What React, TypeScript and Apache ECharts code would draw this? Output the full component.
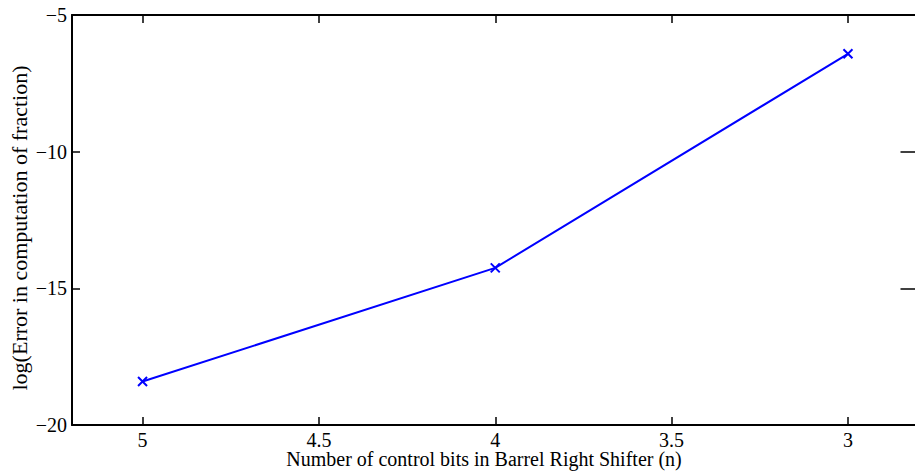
import React, { useEffect, useRef } from "react";
import * as echarts from "echarts";

const xValues = [5, 4, 3];
const yValues = [-18.41, -14.25, -6.42];
const xTicks = [3, 3.5, 4, 4.5, 5];
const xTitle = "Number of control bits in Barrel Right Shifter (n)";
const yTitle = "log(Error in computation of fraction)";

const FONT = "'Liberation Serif', 'Times New Roman', serif";
const fmt = (v: number) => String(v).replace("-", "\u2212");

export default function App() {
  const ref = useRef<HTMLDivElement>(null);
  useEffect(() => {
    document.body.style.overflow = "hidden";
    if (!ref.current) return;
    const chart = echarts.init(ref.current, undefined, { renderer: "svg" });
    const axisLine = { show: true, lineStyle: { color: "#000", width: 2 } };
    const tickStyle = { color: "#000", width: 1.5 };
    const labelStyle = {
      show: true,
      formatter: fmt,
      color: "#000",
      fontFamily: FONT,
      fontSize: 20,
      lineHeight: 14,
      margin: 5,
    };
    const xCommon = {
      type: "value" as const,
      min: 2.8,
      max: 5.2,
      inverse: true,
      splitLine: { show: false },
      axisLine,
    };
    const yCommon = {
      type: "value" as const,
      min: -20,
      max: -5,
      interval: 5,
      splitLine: { show: false },
      axisLine,
    };
    chart.setOption({
      animation: false,
      backgroundColor: "#fff",
      textStyle: { fontFamily: FONT, fontSize: 20, color: "#000" },
      grid: {
        left: 72,
        top: 15,
        width: 846.5,
        height: 410,
        containLabel: false,
        outerBoundsMode: "none",
      },
      xAxis: [
        {
          ...xCommon,
          position: "bottom",
          axisTick: { show: true, inside: true, length: 8, customValues: xTicks, lineStyle: tickStyle },
          axisLabel: { ...labelStyle, customValues: xTicks, margin: 8 },
        },
        {
          ...xCommon,
          position: "top",
          axisTick: { show: true, inside: true, length: 8, customValues: xTicks, lineStyle: tickStyle },
          axisLabel: { show: false },
        },
      ],
      yAxis: [
        {
          ...yCommon,
          position: "left",
          axisTick: { show: true, inside: true, length: 8, lineStyle: tickStyle },
          axisLabel: labelStyle,
        },
        {
          ...yCommon,
          position: "right",
          axisTick: { show: true, inside: true, length: 18, lineStyle: tickStyle },
          axisLabel: { show: false },
        },
      ],
      graphic: [
        {
          type: "text",
          x: 484,
          y: 459,
          style: {
            text: xTitle,
            fontFamily: FONT,
            fontSize: 20,
            lineHeight: 14,
            fill: "#000",
            textAlign: "center",
            textVerticalAlign: "middle",
          },
        },
        {
          type: "text",
          x: 19,
          y: 228,
          rotation: Math.PI / 2,
          style: {
            text: yTitle,
            fontFamily: FONT,
            fontSize: 22,
            fill: "#000",
            textAlign: "center",
            textVerticalAlign: "middle",
          },
        },
      ],
      series: [
        {
          type: "line",
          xAxisIndex: 0,
          yAxisIndex: 0,
          data: xValues.map((x, i) => [x, yValues[i]]),
          lineStyle: { color: "#0000ff", width: 2 },
          symbol: "path://M0,0L10,10M10,0L0,10",
          symbolSize: 9,
          itemStyle: { color: "rgba(0,0,0,0)", borderColor: "#0000ff", borderWidth: 2 },
          emphasis: { disabled: true },
        },
      ],
    });
    return () => chart.dispose();
  }, []);
  return (
    <div style={{ position: "absolute", left: 0, top: 0, width: 915, height: 472, overflow: "hidden", background: "#fff" }}>
      <div ref={ref} style={{ width: 915, height: 472 }} />
    </div>
  );
}
